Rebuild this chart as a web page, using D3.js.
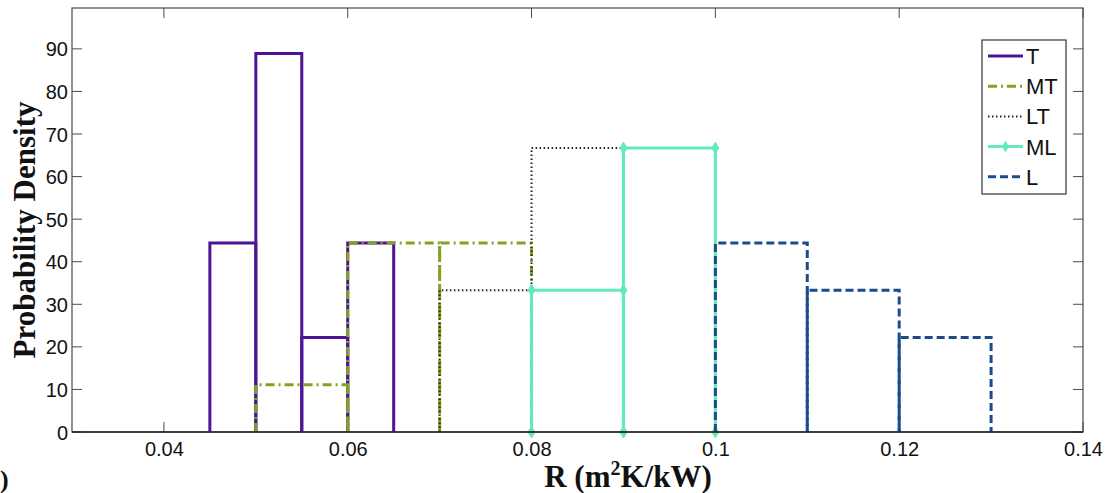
<!DOCTYPE html>
<html>
<head>
<meta charset="utf-8">
<script src="https://cdn.jsdelivr.net/npm/d3@7"></script>
<style>
  html, body { margin: 0; padding: 0; background: #fff; }
  svg { display: block; }
</style>
</head>
<body>
<svg id="chart" width="1114" height="493"></svg>
<script>
// ---- data ----
const seriesNames = ["T", "MT", "LT", "ML", "L"];
const edgesT  = [0.045, 0.05, 0.055, 0.06, 0.065];
const valuesT = [44.4, 88.9, 22.2, 44.4];
const edgesMT  = [0.05, 0.06, 0.07, 0.08];
const valuesMT = [11.1, 44.4, 44.4];
const edgesLT  = [0.07, 0.08, 0.09];
const valuesLT = [33.3, 66.7];
const edgesML  = [0.08, 0.09, 0.10];
const valuesML = [33.3, 66.7];
const edgesL  = [0.10, 0.11, 0.12, 0.13];
const valuesL = [44.4, 33.3, 22.2];
const xTicks = [0.04, 0.06, 0.08, 0.10, 0.12, 0.14];
const xTickLabels = ["0.04", "0.06", "0.08", "0.1", "0.12", "0.14"];
const yTicks = [0, 10, 20, 30, 40, 50, 60, 70, 80, 90];

// ---- styles ----
const styles = {
  T:  { color: "#4d1596", width: 3,   dash: null },
  MT: { color: "#82a321", width: 3,   dash: "9,4,2,4" },
  LT: { color: "#222222", width: 2,   dash: "1.5,2.5" },
  ML: { color: "#62ebb8", width: 3,   dash: null, marker: true },
  L:  { color: "#1a4b8c", width: 3,   dash: "8,4" }
};
const seriesData = {
  T: [edgesT, valuesT], MT: [edgesMT, valuesMT], LT: [edgesLT, valuesLT],
  ML: [edgesML, valuesML], L: [edgesL, valuesL]
};

const svg = d3.select("#chart");
const pL = 72, pR = 1083, pT = 8, pB = 432;
const x = d3.scaleLinear().domain([0.03, 0.14]).range([pL, pR]);
const y = d3.scaleLinear().domain([0, 99.6]).range([pB, pT]);
const axisColor = "#4a4a4a";

svg.append("rect").attr("x", pL).attr("y", pT)
  .attr("width", pR - pL).attr("height", pB - pT).attr("fill", "#fff");

// axes
const tickLen = 10;
const gx = svg.append("g").attr("transform", `translate(0,${pB})`)
  .call(d3.axisBottom(x).tickValues(xTicks).tickSize(0)
    .tickFormat((d, i) => xTickLabels[i]).tickPadding(0));
gx.select(".domain").remove();
gx.selectAll("text").attr("font-family", "Liberation Sans, Arial, sans-serif")
  .attr("font-size", 20).attr("fill", "#111").attr("dy", null).attr("y", 24);

const gy = svg.append("g").attr("transform", `translate(${pL},0)`)
  .call(d3.axisLeft(y).tickValues(yTicks).tickSize(0).tickPadding(0));
gy.select(".domain").remove();
gy.selectAll("text").attr("font-family", "Liberation Sans, Arial, sans-serif")
  .attr("font-size", 20).attr("fill", "#111").attr("x", -4).attr("dy", "0.35em");

// inward ticks on all 4 sides
const tg = svg.append("g").attr("stroke", axisColor).attr("stroke-width", 1);
xTicks.forEach(t => {
  tg.append("line").attr("x1", x(t)).attr("x2", x(t)).attr("y1", pB).attr("y2", pB - tickLen);
  tg.append("line").attr("x1", x(t)).attr("x2", x(t)).attr("y1", pT).attr("y2", pT + tickLen);
});
yTicks.forEach(t => {
  tg.append("line").attr("x1", pL).attr("x2", pL + tickLen).attr("y1", y(t)).attr("y2", y(t));
  tg.append("line").attr("x1", pR).attr("x2", pR - tickLen).attr("y1", y(t)).attr("y2", y(t));
});

// histograms
const line = d3.line().x(d => x(d[0])).y(d => y(d[1]));
seriesNames.forEach(name => {
  const [edges, vals] = seriesData[name];
  const st = styles[name];
  const g = svg.append("g");
  vals.forEach((v, i) => {
    const pts = [[edges[i], 0], [edges[i], v], [edges[i + 1], v], [edges[i + 1], 0]];
    g.append("path").attr("d", line(pts)).attr("fill", "none")
      .attr("stroke", st.color).attr("stroke-width", st.width)
      .attr("stroke-dasharray", st.dash).attr("stroke-linejoin", "miter");
    if (st.marker) {
      pts.forEach(p => {
        g.append("path").attr("d", d3.symbol(d3.symbolDiamond, 40)())
          .attr("transform", `translate(${x(p[0])},${y(p[1])})`)
          .attr("fill", st.color).attr("stroke", st.color).attr("stroke-width", 1);
      });
    }
  });
});

// frame lines on top
const fg = svg.append("g").attr("stroke", axisColor).attr("stroke-width", 1.2).attr("fill", "none");
fg.append("rect").attr("x", pL).attr("y", pT).attr("width", pR - pL).attr("height", pB - pT);
svg.append("line").attr("x1", pL).attr("x2", pR).attr("y1", pB).attr("y2", pB)
  .attr("stroke", "#222").attr("stroke-width", 1.4);

// legend
const lg = svg.append("g");
lg.append("rect").attr("x", 982).attr("y", 40).attr("width", 84).attr("height", 154)
  .attr("fill", "#fff").attr("stroke", "#333").attr("stroke-width", 1.2);
seriesNames.forEach((name, i) => {
  const st = styles[name];
  const cy = 56 + i * 30.2;
  lg.append("line").attr("x1", 988).attr("x2", 1023).attr("y1", cy).attr("y2", cy)
    .attr("stroke", st.color).attr("stroke-width", st.width).attr("stroke-dasharray", st.dash);
  if (st.marker) {
    lg.append("path").attr("d", d3.symbol(d3.symbolDiamond, 40)())
      .attr("transform", `translate(1005.5,${cy})`).attr("fill", st.color);
  }
  lg.append("text").attr("x", 1026).attr("y", cy).attr("dy", "0.36em")
    .attr("font-family", "Liberation Sans, Arial, sans-serif").attr("font-size", 22)
    .attr("fill", "#111").text(name);
});

// axis titles
svg.append("text").attr("transform", "translate(35,230) rotate(-90)")
  .attr("text-anchor", "middle").attr("font-family", "Liberation Serif, Times New Roman, serif")
  .attr("font-weight", "bold").attr("font-size", 31).attr("fill", "#111")
  .text("Probability Density");

const xt = svg.append("text").attr("x", 628).attr("y", 487).attr("text-anchor", "middle")
  .attr("font-family", "Liberation Serif, Times New Roman, serif")
  .attr("font-weight", "bold").attr("font-size", 31).attr("fill", "#111");
xt.append("tspan").text("R (m");
xt.append("tspan").attr("font-size", 20).attr("dy", -12).text("2");
xt.append("tspan").attr("dy", 12).text("K/kW)");

// partially visible panel label at bottom-left (only the closing parenthesis shows)
svg.append("text").attr("x", 0).attr("y", 488)
  .attr("font-family", "Liberation Serif, Times New Roman, serif")
  .attr("font-weight", "bold").attr("font-size", 26).attr("fill", "#111").text(")");
</script>
</body>
</html>
